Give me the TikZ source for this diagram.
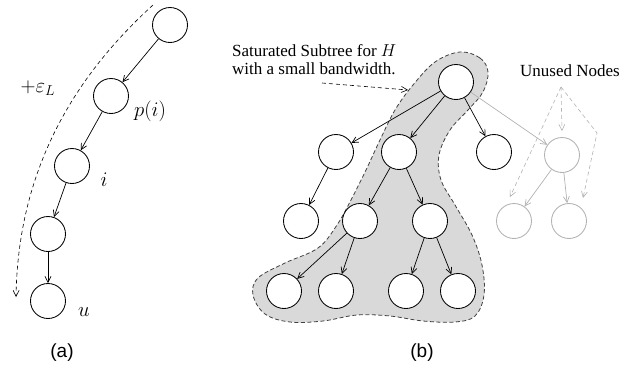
\documentclass[tikz,border=0pt]{standalone}
\usepackage{fontspec}
\setmainfont{Liberation Serif}
\newfontfamily\capfont{Liberation Sans}
\usetikzlibrary{arrows.meta}
\begin{document}
\begin{tikzpicture}[x=1pt,y=-1pt,
  nd/.style={circle,draw,minimum size=35pt,inner sep=0pt,line width=0.85pt,fill=white},
  gnd/.style={nd,draw=black!30},
  edge/.style={-{Straight Barb[length=6pt,width=6pt]},line width=0.7pt},
  gedge/.style={edge,draw=black!30},
  dedge/.style={edge,dashed,dash pattern=on 4pt off 3pt},
  mlab/.style={font=\fontsize{22}{26}\selectfont},
  captxt/.style={font=\capfont\fontsize{19}{22}\selectfont},
  txt/.style={font=\fontsize{17}{18.5}\selectfont}]
\useasboundingbox (0,0) rectangle (625,375);
% ---------- panel (a)
\node[nd] (a1) at (170,25) {};
\node[nd] (a2) at (111,96) {};
\node[nd] (a3) at (72,166) {};
\node[nd] (a4) at (48,234) {};
\node[nd] (a5) at (48,301) {};
\draw[edge] (a1) -- (a2);
\draw[edge] (a2) -- (a3);
\draw[edge] (a3) -- (a4);
\draw[edge] (a4) -- (a5);
\coordinate (s) at (153,5);
\coordinate (e) at (16,297);
\draw[dedge,line width=0.6pt] (s) .. controls (65,85) and (18,180) .. (e);
\node[mlab] (eps) at (38,88) {$+\varepsilon_L$};
\node[mlab] (lp) at (150,111) {$p(i)$};
\node[mlab] (li) at (104,180) {$i$};
\node[mlab] (lu) at (84,312) {$u$};
\node[captxt] (ca) at (62,353) {(a)};
% ---------- panel (b)
\draw[fill=black!15,draw=black!75,dashed,dash pattern=on 4pt off 2.5pt,line width=0.8pt]
  plot[smooth cycle,tension=0.6] coordinates {
  (460,52) (480,58) (488,72) (483,92) (468,110) (450,130) (439,155) (441,180)
  (455,205) (472,235) (482,265) (484,295) (475,316) (455,322) (423,321)
  (390,316) (357,315) (323,321) (290,322) (265,314) (253,295) (258,278)
  (285,263) (318,248) (337,225) (352,198) (366,170) (380,140) (395,110)
  (413,85) (435,62)};
\node[nd] (r) at (456,82) {};
\node[nd] (b1) at (336,152) {};
\node[nd] (b2) at (399,152) {};
\node[nd] (b3) at (494,152) {};
\node[gnd] (g1) at (562,155) {};
\node[nd] (c1) at (301,221) {};
\node[nd] (c2) at (360,221) {};
\node[nd] (c3) at (430,221) {};
\node[gnd] (g2) at (514,221) {};
\node[gnd] (g3) at (569,221) {};
\node[nd] (d1) at (284,291) {};
\node[nd] (d2) at (336,291) {};
\node[nd] (d3) at (406,291) {};
\node[nd] (d4) at (458,291) {};
\draw[edge] (r) -- (b1);
\draw[edge] (r) -- (b2);
\draw[edge] (r) -- (b3);
\draw[gedge] (r) -- (g1);
\draw[edge] (b1) -- (c1);
\draw[edge] (b2) -- (c2);
\draw[edge] (b2) -- (c3);
\draw[edge] (c2) -- (d1);
\draw[edge] (c2) -- (d2);
\draw[edge] (c3) -- (d3);
\draw[edge] (c3) -- (d4);
\draw[gedge] (g1) -- (g2);
\draw[gedge] (g1) -- (g3);
% labels
\node[txt,align=left,anchor=north west,inner sep=0pt] (sat) at (232,44)
  {Saturated Subtree for $H$\\with a small bandwidth.};
\coordinate (sa) at (322,83);
\coordinate (sb) at (408,90);
\draw[dedge,line width=0.6pt] (sa) -- (sb);
\node[txt] (un) at (570,71) {Unused Nodes};
\coordinate (ua) at (561,87);
\coordinate (ub) at (597,133);
\coordinate (t1) at (510,197);
\coordinate (t2) at (562,131);
\coordinate (t3) at (583,198);
\draw[dedge,draw=black!30,line width=0.6pt] (ua) -- (t1);
\draw[dedge,draw=black!30,line width=0.6pt] (ua) -- (t2);
\draw[dedge,draw=black!30,line width=0.6pt] (ua) -- (ub) -- (t3);
\node[captxt] (cb) at (422,353) {(b)};
\end{tikzpicture}
\end{document}
